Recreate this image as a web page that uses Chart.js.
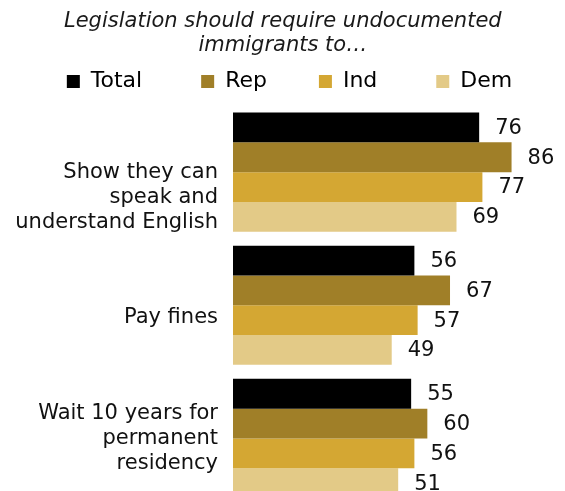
<!DOCTYPE html>
<html>
<head>
<meta charset="utf-8">
<script src="https://cdn.jsdelivr.net/npm/chart.js@4"></script>
<style>
  html, body { margin: 0; padding: 0; background: #fff; overflow: hidden; }
  canvas { display: block; }
</style>
</head>
<body>
<canvas id="myChart" width="565" height="510"></canvas>
<script>
// datos
const categories = [
    ["Show they can", "speak and", "understand English"],
    ["Pay fines"],
    ["Wait 10 years for", "permanent", "residency"],
];
const seriesNames = ["Total", "Rep", "Ind", "Dem"];
const totalValues = [76, 56, 55];
const repValues = [86, 67, 60];
const indValues = [77, 57, 56];
const demValues = [69, 49, 51];

const FONT = "DejaVu Sans";
const colors = ["#000000", "#a07f28", "#d4a733", "#e3ca87"];
// lineas en blanco para bajar las etiquetas como en el original
const tickLead = [2, 1, 0];
// espacios para separar los items de la leyenda
const legendPad = [7, 6, 7, 0];

const valueLabels = {
    id: "valueLabels",
    afterDatasetsDraw(chart) {
        const ctx = chart.ctx;
        ctx.save();
        ctx.font = `21px "${FONT}"`;
        ctx.fillStyle = "#111";
        ctx.textAlign = "left";
        ctx.textBaseline = "middle";
        chart.data.datasets.forEach((ds, i) => {
            chart.getDatasetMeta(i).data.forEach((bar, j) => {
                ctx.fillText(ds.data[j], bar.x + 16, bar.y + 1);
            });
        });
        ctx.restore();
    },
};

const allValues = [totalValues, repValues, indValues, demValues];

const ctx = document.getElementById("myChart").getContext("2d");
const myChart = new Chart(ctx, {
    type: "bar",
    data: {
        labels: categories,
        datasets: seriesNames.map((name, i) => ({
            label: name,
            data: allValues[i],
            backgroundColor: colors[i],
            borderWidth: 0,
            categoryPercentage: 0.895,
            barPercentage: 1,
        })),
    },
    options: {
        indexAxis: "y",
        responsive: false,
        animation: false,
        layout: {
            padding: { left: 14, right: 0, top: 0, bottom: 5 },
        },
        scales: {
            x: {
                display: false,
                min: 0,
                max: 102.5,
            },
            y: {
                grid: { display: false, drawTicks: false },
                border: { display: false },
                ticks: {
                    padding: 15,
                    color: "#111",
                    autoSkip: false,
                    font: { family: FONT, size: 21 },
                    callback: function (value, index) {
                        return Array(tickLead[index]).fill("").concat(categories[index]);
                    },
                },
                afterFit: function (scale) {
                    scale.width = 233 - 14;
                    // sin margen extra arriba/abajo por las etiquetas multilinea
                    scale.paddingTop = 0;
                    scale.paddingBottom = 0;
                },
            },
        },
        plugins: {
            title: {
                display: true,
                text: [
                    "Legislation should require undocumented  ",
                    "immigrants to…  ",
                ],
                color: "#1a1a1a",
                font: { family: FONT, size: 21, style: "italic", weight: "normal", lineHeight: 1.13 },
                padding: { top: 10, bottom: 3 },
            },
            subtitle: {
                display: true,
                text: "",
                weight: 500,
                padding: 0,
                font: { size: 2.6 },
            },
            legend: {
                position: "top",
                labels: {
                    boxWidth: 13,
                    boxHeight: 13,
                    padding: 10,
                    color: "#111",
                    font: { family: FONT, size: 22 },
                    generateLabels: function (chart) {
                        return chart.data.datasets.map((ds, i) => ({
                            text: ds.label + " ".repeat(legendPad[i]),
                            fillStyle: ds.backgroundColor,
                            strokeStyle: ds.backgroundColor,
                            lineWidth: 0,
                            hidden: false,
                            datasetIndex: i,
                        }));
                    },
                },
            },
            tooltip: { enabled: false },
        },
    },
    plugins: [valueLabels],
});
</script>
</body>
</html>
